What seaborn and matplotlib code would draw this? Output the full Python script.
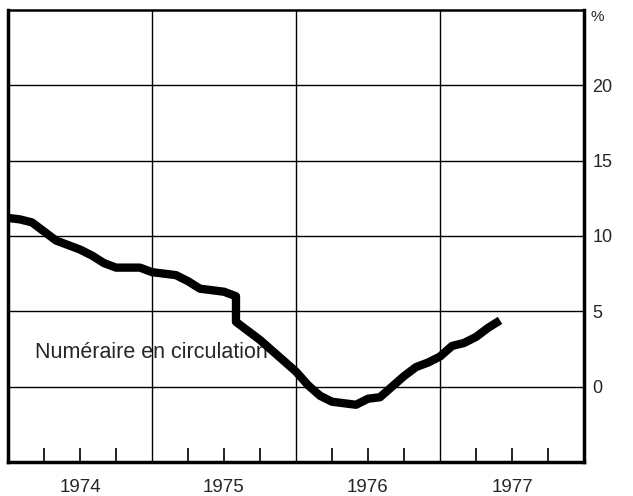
import numpy as np
import pandas as pd
import matplotlib
matplotlib.use('Agg')
import matplotlib.pyplot as plt
import seaborn as sns

# monthly observations, months counted from January 1974
# (month 19 appears twice: break in the series)
months = [0, 1, 2, 3, 4, 5, 6, 7, 8, 9, 10, 11,
          12, 13, 14, 15, 16, 17, 18, 19, 19, 20, 21, 22, 23,
          24, 25, 26, 27, 28, 29, 30, 31, 32, 33, 34, 35,
          36, 37, 38, 39, 40, 41]
values = [11.2, 11.1, 10.9, 10.3, 9.7, 9.4, 9.1, 8.7, 8.2, 7.9, 7.9, 7.9,
          7.6, 7.5, 7.4, 7.0, 6.5, 6.4, 6.3, 6.0, 4.3, 3.7, 3.1, 2.4, 1.7,
          1.0, 0.1, -0.6, -1.0, -1.1, -1.2, -0.8, -0.7, 0.0, 0.7, 1.3, 1.6,
          2.0, 2.7, 2.9, 3.3, 3.9, 4.4]
years = [1974, 1975, 1976, 1977]
y_ticks = [0, 5, 10, 15, 20]
series_label = 'Numéraire en circulation'


def main():
    df = pd.DataFrame({'t': [1974 + m / 12 for m in months], 'v': values})

    sns.set_style('white')
    plt.rcParams['font.family'] = ['Liberation Sans', 'DejaVu Sans']

    fig = plt.figure(figsize=(6.33, 4.96), dpi=100)
    ax = fig.add_axes([0.0126, 0.0685, 0.91, 0.9115])

    # grid
    for y in y_ticks:
        ax.axhline(y, color='black', lw=1.0, zorder=1)
    for yr in years[1:]:
        ax.axvline(yr, color='black', lw=1.0, zorder=1)

    sns.lineplot(data=df, x='t', y='v', color='black', lw=6, sort=False,
                 estimator=None, ax=ax, zorder=3,
                 solid_joinstyle='round', solid_capstyle='butt')

    ax.set_xlim(1974, 1978)
    ax.set_ylim(-5, 25)

    # quarterly ticks on the bottom, pointing inward
    quarters = [yr + q / 4 for yr in years for q in (1, 2, 3)]
    ax.set_xticks(quarters)
    ax.set_xticklabels([])
    ax.tick_params(axis='x', direction='in', length=10, width=1.2,
                   colors='black', bottom=True)
    for yr in years:
        ax.text(yr + 0.5, -0.066, str(yr), transform=ax.get_xaxis_transform(),
                ha='center', va='baseline', fontsize=13.5)

    ax.yaxis.tick_right()
    ax.set_yticks(y_ticks)
    ax.set_yticklabels([str(y) for y in y_ticks], fontsize=13)
    ax.tick_params(axis='y', length=0, pad=6, right=True)
    ax.text(1.012, 0.985, '%', transform=ax.transAxes, ha='left', va='center',
            fontsize=11)

    ax.set_xlabel('')
    ax.set_ylabel('')

    for side in ['left', 'bottom', 'right']:
        ax.spines[side].set_linewidth(2.5)
        ax.spines[side].set_color('black')
    ax.spines['top'].set_linewidth(1.8)
    ax.spines['top'].set_color('black')

    ax.text(1974.19, 2.3, series_label, fontsize=15.5, ha='left',
            va='center', zorder=2)

    fig.savefig('out.png', dpi=100)


if __name__ == '__main__':
    main()
